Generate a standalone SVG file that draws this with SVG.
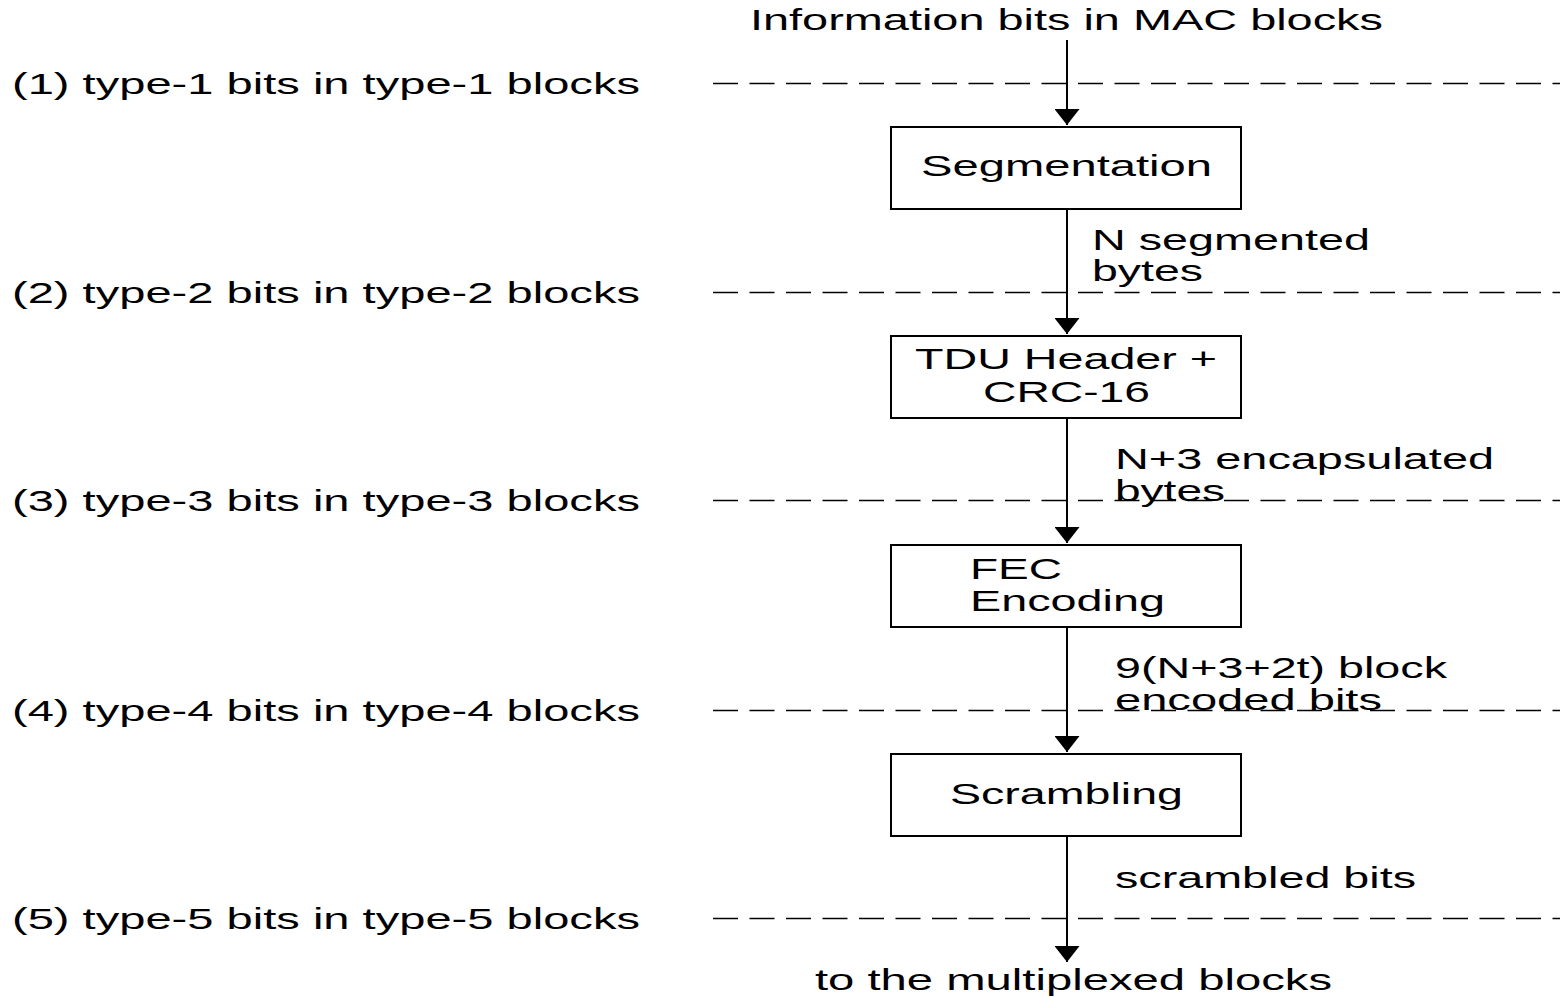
<svg xmlns="http://www.w3.org/2000/svg" width="1564" height="997" viewBox="0 0 1564 997">
  <defs>
    <style>
      .t { font-family: "Liberation Sans", Arial, sans-serif; font-size: 30px; fill: #000; }
      .box { fill: #fff; stroke: #000; stroke-width: 2; }
      .flow { stroke: #000; stroke-width: 2; fill: none; }
      .level { stroke: #000; stroke-width: 1.6; stroke-dasharray: 25 11.5; fill: none; }
    </style>
    <marker id="head" viewBox="0 0 16 25" refX="16" refY="12.5" markerWidth="16" markerHeight="25" markerUnits="userSpaceOnUse" orient="auto">
      <path d="M0,0 L16,12.5 L0,25 Z" fill="#000"/>
    </marker>
  </defs>
  <rect width="1564" height="997" fill="#fff"/>

  <!-- bit-type levels -->
  <g id="levels">
    <line class="level" x1="713" y1="83.5" x2="1560" y2="83.5"/>
    <line class="level" x1="713" y1="292.5" x2="1560" y2="292.5"/>
    <line class="level" x1="713" y1="500.5" x2="1560" y2="500.5"/>
    <line class="level" x1="713" y1="710.5" x2="1560" y2="710.5"/>
    <line class="level" x1="713" y1="918.5" x2="1560" y2="918.5"/>
  </g>
  <g id="level-labels">
    <text class="t" x="12" y="94" textLength="628" lengthAdjust="spacingAndGlyphs">(1) type-1 bits in type-1 blocks</text>
    <text class="t" x="12" y="303" textLength="628" lengthAdjust="spacingAndGlyphs">(2) type-2 bits in type-2 blocks</text>
    <text class="t" x="12" y="511" textLength="628" lengthAdjust="spacingAndGlyphs">(3) type-3 bits in type-3 blocks</text>
    <text class="t" x="12" y="721" textLength="628" lengthAdjust="spacingAndGlyphs">(4) type-4 bits in type-4 blocks</text>
    <text class="t" x="12" y="929" textLength="628" lengthAdjust="spacingAndGlyphs">(5) type-5 bits in type-5 blocks</text>
  </g>

  <!-- connectors -->
  <g id="connectors">
    <line class="flow" x1="1067" y1="40" x2="1067" y2="125" marker-end="url(#head)"/>
    <line class="flow" x1="1067" y1="209" x2="1067" y2="334" marker-end="url(#head)"/>
    <line class="flow" x1="1067" y1="418" x2="1067" y2="543" marker-end="url(#head)"/>
    <line class="flow" x1="1067" y1="627" x2="1067" y2="752" marker-end="url(#head)"/>
    <line class="flow" x1="1067" y1="836" x2="1067" y2="962" marker-end="url(#head)"/>
  </g>

  <g id="connector-labels">
    <text class="t" x="750" y="30" textLength="633" lengthAdjust="spacingAndGlyphs">Information bits in MAC blocks</text>
    <text class="t" x="1092" y="250" textLength="278" lengthAdjust="spacingAndGlyphs">N segmented</text>
    <text class="t" x="1092" y="281" textLength="111" lengthAdjust="spacingAndGlyphs">bytes</text>
    <text class="t" x="1115" y="469" textLength="379" lengthAdjust="spacingAndGlyphs">N+3 encapsulated</text>
    <text class="t" x="1115" y="501" textLength="110" lengthAdjust="spacingAndGlyphs">bytes</text>
    <text class="t" x="1115" y="678" textLength="332" lengthAdjust="spacingAndGlyphs">9(N+3+2t) block</text>
    <text class="t" x="1115" y="710" textLength="267" lengthAdjust="spacingAndGlyphs">encoded bits</text>
    <text class="t" x="1115" y="888" textLength="301" lengthAdjust="spacingAndGlyphs">scrambled bits</text>
    <text class="t" x="815" y="990" textLength="517" lengthAdjust="spacingAndGlyphs">to the multiplexed blocks</text>
  </g>

  <!-- processing stages -->
  <g id="segmentation">
    <rect class="box" x="891" y="127" width="350" height="82"/>
    <text class="t" x="921" y="176" textLength="291" lengthAdjust="spacingAndGlyphs">Segmentation</text>
  </g>
  <g id="tdu-header">
    <rect class="box" x="891" y="336" width="350" height="82"/>
    <text class="t" x="915" y="369" textLength="302" lengthAdjust="spacingAndGlyphs">TDU Header +</text>
    <text class="t" x="983" y="402" textLength="167" lengthAdjust="spacingAndGlyphs">CRC-16</text>
  </g>
  <g id="fec-encoding">
    <rect class="box" x="891" y="545" width="350" height="82"/>
    <text class="t" x="970" y="579" textLength="92" lengthAdjust="spacingAndGlyphs">FEC</text>
    <text class="t" x="970" y="611" textLength="195" lengthAdjust="spacingAndGlyphs">Encoding</text>
  </g>
  <g id="scrambling">
    <rect class="box" x="891" y="754" width="350" height="82"/>
    <text class="t" x="950" y="804" textLength="233" lengthAdjust="spacingAndGlyphs">Scrambling</text>
  </g>
</svg>
